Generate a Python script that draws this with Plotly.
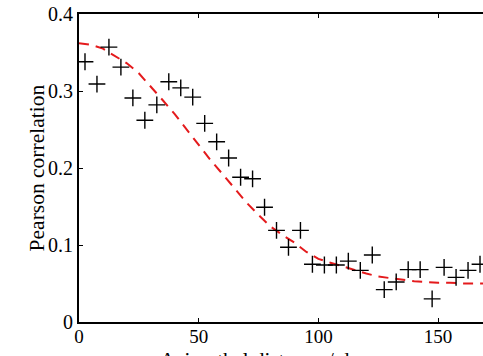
import plotly.graph_objects as go

# Measured correlation (plus markers)
dist = [2.5 + 5 * k for k in range(34)]
corr = [0.338, 0.309, 0.357, 0.331, 0.291, 0.262, 0.282, 0.312, 0.304, 0.292,
        0.258, 0.234, 0.213, 0.188, 0.186, 0.149, 0.119, 0.097, 0.119, 0.075,
        0.074, 0.074, 0.079, 0.067, 0.087, 0.042, 0.052, 0.068, 0.068, 0.030,
        0.071, 0.058, 0.067, 0.075]

# Fitted curve (red dashed)
fit_x = [0, 5, 10, 15, 20, 25, 30, 35, 40, 45, 50, 55, 60, 65, 70, 75, 80, 85,
         90, 95, 100, 105, 110, 115, 120, 125, 130, 135, 140, 145, 150, 155,
         160, 165, 170]
fit_y = [0.362, 0.360, 0.355, 0.346, 0.336, 0.323, 0.306, 0.288, 0.270, 0.250,
         0.230, 0.210, 0.192, 0.174, 0.155, 0.139, 0.124, 0.113, 0.103, 0.091,
         0.082, 0.077, 0.072, 0.067, 0.063, 0.059, 0.057, 0.055, 0.053, 0.052,
         0.051, 0.051, 0.050, 0.050, 0.050]

x_ticks = [0, 50, 100, 150]
y_ticks = [0, 0.1, 0.2, 0.3, 0.4]
y_tick_text = ["0", "0.1", "0.2", "0.3", "0.4"]

FONT = "Liberation Serif"

fig = go.Figure()
fig.add_trace(go.Scatter(
    x=fit_x, y=fit_y, mode="lines",
    line=dict(color="#e41a1c", width=2, dash="10px,7px"),
    showlegend=False, hoverinfo="skip"))
fig.add_trace(go.Scatter(
    x=dist, y=corr, mode="markers",
    marker=dict(symbol="cross-thin", size=12, line=dict(color="black", width=1.4)),
    showlegend=False))

fig.update_layout(
    width=483, height=356,
    margin=dict(l=79, r=0, t=14, b=34),
    paper_bgcolor="white", plot_bgcolor="white",
    font=dict(family=FONT, size=20, color="black"),
    xaxis=dict(range=[0, 168.75], tickvals=x_ticks, ticks="inside", ticklen=4,
               tickcolor="black", showline=True, linecolor="black", linewidth=2,
               mirror="ticks", showgrid=False, zeroline=False, automargin=False,
               ticklabelstandoff=-4,
               tickfont=dict(family=FONT, size=19)),
    yaxis=dict(range=[0, 0.4], tickvals=y_ticks, ticktext=y_tick_text,
               ticks="inside", ticklen=4, tickcolor="black", showline=True,
               linecolor="black", linewidth=2, mirror=False, showgrid=False,
               zeroline=False, automargin=False,
               tickfont=dict(family=FONT, size=20)),
    annotations=[
        dict(text="Azimuthal distance / degrees", xref="paper", yref="paper",
             x=0.5, y=-0.078, xanchor="center", yanchor="top",
             showarrow=False, font=dict(family=FONT, size=21)),
        dict(text="Pearson correlation", xref="paper", yref="paper",
             x=-0.103, y=0.5, xanchor="center", yanchor="middle", textangle=-90,
             showarrow=False, font=dict(family=FONT, size=21.5)),
    ],
)

fig.write_html("out.html")
